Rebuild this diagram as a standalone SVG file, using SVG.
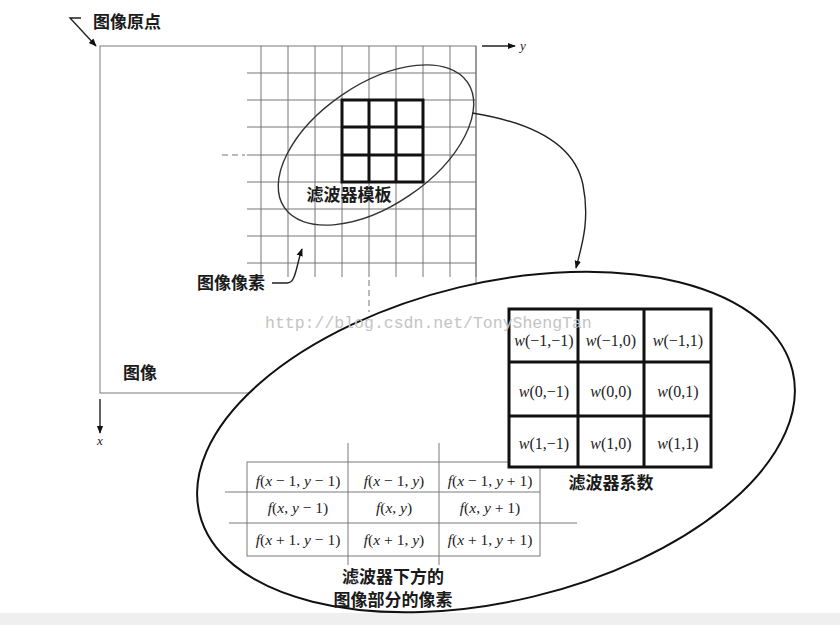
<svg xmlns="http://www.w3.org/2000/svg" width="840" height="625" viewBox="0 0 840 625">
<style>
.grid{stroke:#777;stroke-width:1;fill:none}
.thick{stroke:#111;stroke-width:3;fill:none}
.thin{stroke:#7a7a7a;stroke-width:1;fill:none}
.conn{stroke:#222;stroke-width:1.4;fill:none}
.cjk{font-family:"Noto Sans CJK SC","Noto Sans CJK JP",sans-serif;font-weight:700;fill:#1a1a1a;font-size:17px}
.math{font-family:"Liberation Serif","DejaVu Serif",serif;fill:#222}
.it{font-style:italic}
</style>
<defs>
<marker id="ah" viewBox="0 0 10 10" refX="9" refY="5" markerWidth="8" markerHeight="8" markerUnits="userSpaceOnUse" orient="auto">
<path d="M0,1 L10,5 L0,9 Z" fill="#111"/>
</marker>
</defs>
<rect x="0" y="0" width="840" height="625" fill="#fff"/>
<rect x="0" y="613" width="840" height="12" fill="#efefef"/>

<g id="image-region">
<rect class="thin" x="100" y="46" width="376" height="347"/>
<text class="cjk" x="140" y="379" text-anchor="middle">图像</text>
</g>

<g id="pixel-grid">
<path class="grid" d="M261,46V277 M288,46V277 M315,46V277 M342,46V277 M369,46V277 M396,46V277 M423,46V277 M450,46V277 M476,46V277
M247,73H476 M247,100H476 M247,127H476 M247,155H476 M247,182H476 M247,209H476 M247,236H476 M247,263H476"/>
<path class="grid" stroke-dasharray="6,4" d="M222,155H245 M369,280V312"/>
</g>

<g id="filter-mask">
<path class="thick" d="M342,100H423V182H342Z M369,100V182 M396,100V182 M342,127H423 M342,155H423"/>
<ellipse cx="376" cy="145" rx="111" ry="60.5" transform="rotate(-34.4 376 145)" fill="none" stroke="#333" stroke-width="1.4"/>
<text class="cjk" x="349" y="201" text-anchor="middle">滤波器模板</text>
</g>

<g id="origin-label">
<text class="cjk" x="93" y="28">图像原点</text>
</g>

<g id="pixel-label">
<text class="cjk" x="197" y="289">图像像素</text>
</g>

<g id="zoom-ellipse">
<ellipse cx="496" cy="442" rx="305" ry="159" transform="rotate(-13.5 496 442)" fill="#fff" stroke="#111" stroke-width="2"/>
</g>

<g id="pixel-table">
<rect class="thin" x="247" y="462" width="293" height="94"/>
<path class="thin" d="M348,443V565 M439,443V565 M225,492H540 M229,523H577"/>
<g class="math" font-size="15.5" text-anchor="middle">
<text x="298" y="486"><tspan class="it">f</tspan>(<tspan class="it">x</tspan> − 1, <tspan class="it">y</tspan> − 1)</text>
<text x="394" y="486"><tspan class="it">f</tspan>(<tspan class="it">x</tspan> − 1, <tspan class="it">y</tspan>)</text>
<text x="490" y="486"><tspan class="it">f</tspan>(<tspan class="it">x</tspan> − 1, <tspan class="it">y</tspan> + 1)</text>
<text x="298" y="513"><tspan class="it">f</tspan>(<tspan class="it">x</tspan>, <tspan class="it">y</tspan> − 1)</text>
<text x="394" y="513"><tspan class="it">f</tspan>(<tspan class="it">x</tspan>, <tspan class="it">y</tspan>)</text>
<text x="490" y="513"><tspan class="it">f</tspan>(<tspan class="it">x</tspan>, <tspan class="it">y</tspan> + 1)</text>
<text x="298" y="545"><tspan class="it">f</tspan>(<tspan class="it">x</tspan> + 1. <tspan class="it">y</tspan> − 1)</text>
<text x="394" y="545"><tspan class="it">f</tspan>(<tspan class="it">x</tspan> + 1, <tspan class="it">y</tspan>)</text>
<text x="490" y="545"><tspan class="it">f</tspan>(<tspan class="it">x</tspan> + 1, <tspan class="it">y</tspan> + 1)</text>
</g>
<text class="cjk" x="393" y="583" text-anchor="middle">滤波器下方的</text>
<text class="cjk" x="393" y="606" text-anchor="middle">图像部分的像素</text>
</g>

<g id="coefficients">
<rect x="509" y="309" width="202" height="158" fill="#fff" stroke="#111" stroke-width="3"/>
<path class="thick" d="M578,309V467 M644,309V467 M509,362H711 M509,416H711"/>
<g class="math" font-size="16" text-anchor="middle">
<text x="544" y="346"><tspan class="it">w</tspan>(−1,−1)</text>
<text x="611" y="346"><tspan class="it">w</tspan>(−1,0)</text>
<text x="678" y="346"><tspan class="it">w</tspan>(−1,1)</text>
<text x="544" y="397"><tspan class="it">w</tspan>(0,−1)</text>
<text x="611" y="397"><tspan class="it">w</tspan>(0,0)</text>
<text x="678" y="397"><tspan class="it">w</tspan>(0,1)</text>
<text x="544" y="449"><tspan class="it">w</tspan>(1,−1)</text>
<text x="611" y="449"><tspan class="it">w</tspan>(1,0)</text>
<text x="678" y="449"><tspan class="it">w</tspan>(1,1)</text>
</g>
<text class="cjk" x="611" y="489" text-anchor="middle">滤波器系数</text>
</g>

<g id="watermark">
<text x="265" y="328" font-family="Liberation Mono, monospace" font-size="16.5" fill="#c4c4c4">http://blog.csdn.net/TonyShengTan</text>
</g>

<g id="connectors">
<path class="conn" d="M81,18H70L96,46" marker-end="url(#ah)"/>
<path class="conn" d="M272,283H287C296,283 296,266 302,249" marker-end="url(#ah)"/>
<path class="conn" d="M472,113C535,123 575,145 583,185C590,220 582,245 576,268" marker-end="url(#ah)"/>
<path class="conn" d="M482,46H515" marker-end="url(#ah)"/>
<path class="conn" d="M100,399V433" marker-end="url(#ah)"/>
<text class="math it" x="520" y="50" font-size="13">y</text>
<text class="math it" x="97" y="445" font-size="13">x</text>
</g>
</svg>
